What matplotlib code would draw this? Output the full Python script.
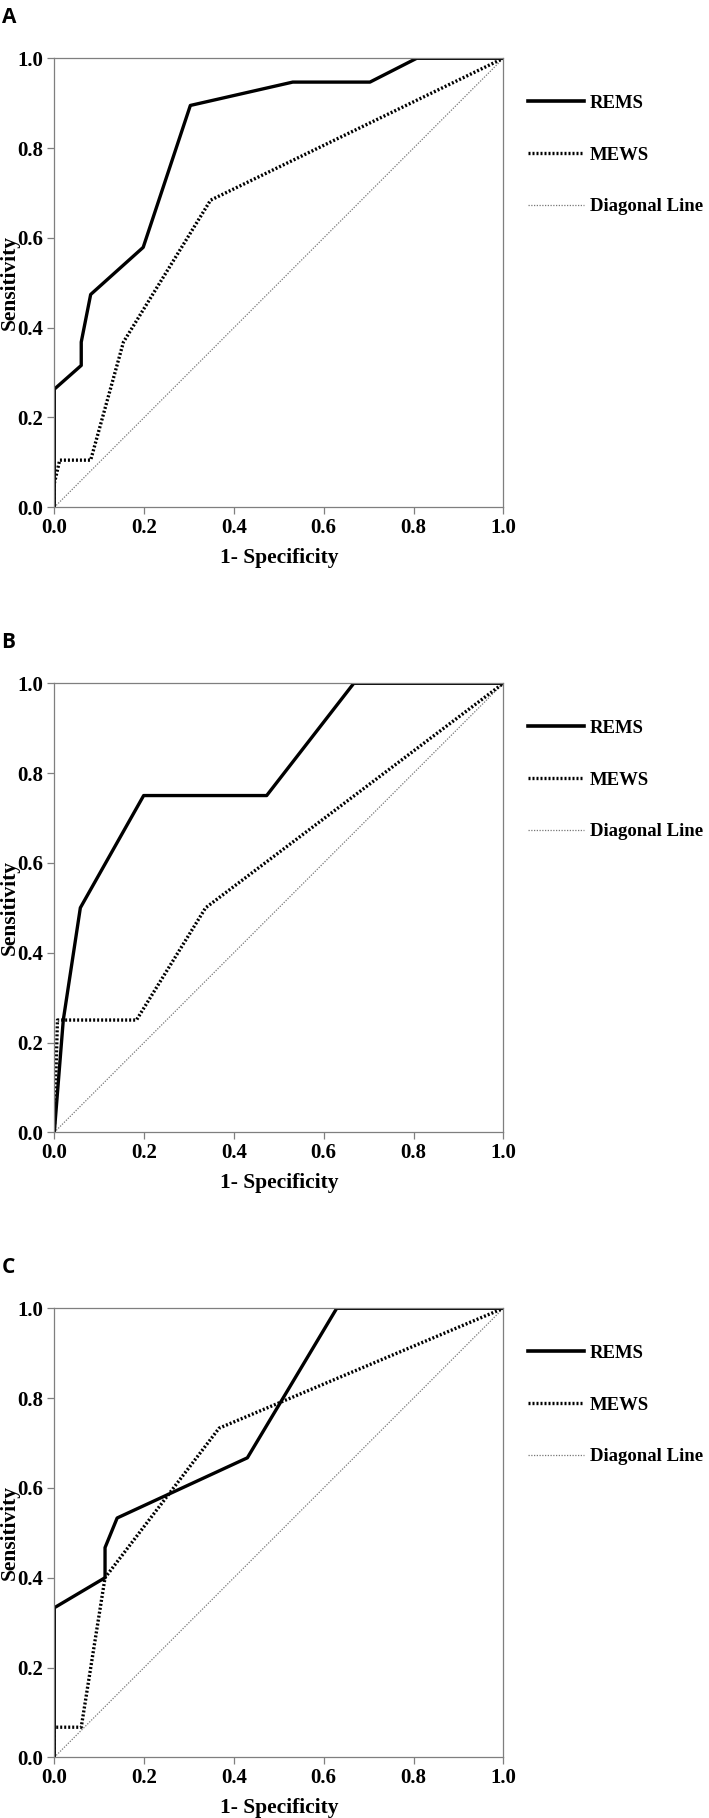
import matplotlib.pyplot as plt
from matplotlib.lines import Line2D

plt.rcParams['font.family'] = ['Liberation Serif', 'DejaVu Serif']
plt.rcParams['font.weight'] = 'bold'

# ROC points (1 - specificity, sensitivity)
rems_a_x = [0.0, 0.0, 0.06, 0.06, 0.081, 0.198, 0.303, 0.531, 0.703, 0.807, 1.0]
rems_a_y = [0.0, 0.263, 0.316, 0.368, 0.474, 0.579, 0.895, 0.947, 0.947, 1.0, 1.0]
mews_a_x = [0.0, 0.0, 0.012, 0.081, 0.154, 0.348, 1.0]
mews_a_y = [0.0, 0.053, 0.105, 0.105, 0.368, 0.684, 1.0]

rems_b_x = [0.0, 0.02, 0.058, 0.199, 0.473, 0.667, 1.0]
rems_b_y = [0.0, 0.25, 0.5, 0.75, 0.75, 1.0, 1.0]
mews_b_x = [0.0, 0.007, 0.183, 0.337, 1.0]
mews_b_y = [0.0, 0.25, 0.25, 0.5, 1.0]

rems_c_x = [0.0, 0.0, 0.113, 0.113, 0.14, 0.43, 0.629, 1.0]
rems_c_y = [0.0, 0.333, 0.4, 0.467, 0.533, 0.667, 1.0, 1.0]
mews_c_x = [0.0, 0.0, 0.06, 0.113, 0.367, 1.0]
mews_c_y = [0.0, 0.067, 0.067, 0.4, 0.733, 1.0]

panels = [
    ('A', rems_a_x, rems_a_y, mews_a_x, mews_a_y),
    ('B', rems_b_x, rems_b_y, mews_b_x, mews_b_y),
    ('C', rems_c_x, rems_c_y, mews_c_x, mews_c_y),
]
ticks = [0.0, 0.2, 0.4, 0.6, 0.8, 1.0]
tick_labels = ['0.0', '0.2', '0.4', '0.6', '0.8', '1.0']
legend_labels = ['REMS', 'MEWS', 'Diagonal Line']

W, H = 709, 1818
fig = plt.figure(figsize=(W / 100, H / 100), dpi=100)
axes_tops = [58.3, 683.3, 1308.3]
side = 449.0
grey = '#7f7f7f'

for (name, rx, ry, mx, my), top in zip(panels, axes_tops):
    ax = fig.add_axes([54.3 / W, 1 - (top + side) / H, side / W, side / H])
    ax.plot([0, 1], [0, 1], linestyle=(0, (1, 1.2)), color='#777777', lw=0.9)
    ax.plot(mx, my, linestyle=(0, (0.6, 0.6)), color='black', lw=2.4)
    ax.plot(rx, ry, linestyle='-', color='black', lw=2.4)
    ax.set_xlim(0, 1)
    ax.set_ylim(0, 1)
    ax.set_xticks(ticks)
    ax.set_yticks(ticks)
    ax.set_xticklabels(tick_labels, fontsize=15, fontweight='bold')
    ax.set_yticklabels(tick_labels, fontsize=15, fontweight='bold')
    ax.tick_params(length=5, width=0.9, color=grey, pad=3)
    for sp in ax.spines.values():
        sp.set_color(grey)
        sp.set_linewidth(0.9)
    ax.set_xlabel('1- Specificity', fontsize=15.5, fontweight='bold', labelpad=7)
    ax.set_ylabel('Sensitivity', fontsize=15.5, fontweight='bold', va='baseline')
    ax.yaxis.set_label_coords(-39.5 / side, 0.5)

    handles = [
        Line2D([], [], color='black', lw=2.6, linestyle='-'),
        Line2D([], [], color='black', lw=2.4, linestyle=(0, (0.6, 0.6))),
        Line2D([], [], color='#777777', lw=0.9, linestyle=(0, (1, 1.2))),
    ]
    ax.legend(handles, legend_labels, loc='upper left', bbox_to_anchor=(1.055, 0.919),
              frameon=False, prop={'size': 13.5, 'weight': 'bold'},
              handlelength=3.0, handletextpad=0.3, labelspacing=1.85,
              borderpad=0, borderaxespad=0)

    fig.text(1.5 / W, 1 - (top - 41) / H, name, fontsize=15, fontweight='bold',
             family=['Open Sans', 'DejaVu Sans'], ha='left', va='center')

fig.savefig('out.png', dpi=100)
